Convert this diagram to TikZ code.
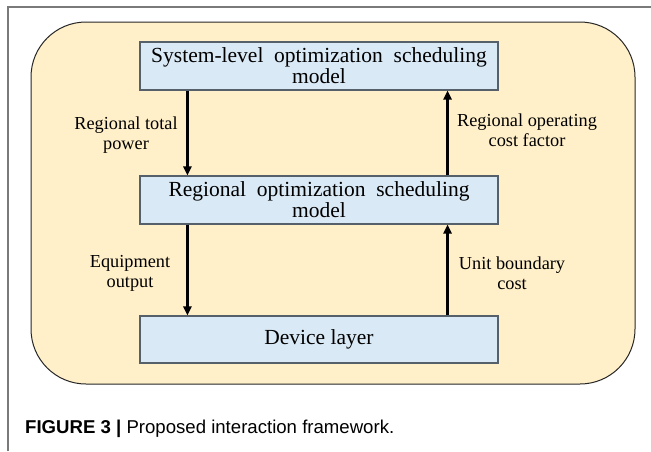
\documentclass[tikz,border=0pt]{standalone}
\usepackage{fontspec}
\setmainfont{Liberation Serif}
\newfontfamily\capfont{Liberation Sans}
\usetikzlibrary{arrows.meta}
\definecolor{outerfill}{HTML}{FFF0C9}
\definecolor{boxfill}{HTML}{DAE9F6}
\definecolor{boxline}{HTML}{55606A}
\definecolor{frameline}{HTML}{7A7A7A}
\tikzset{
  layerbox/.style={draw=boxline, line width=1.1pt, fill=boxfill, minimum width=358pt, inner sep=0pt, align=center, font=\fontsize{21.5}{21}\selectfont},
  flowlabel/.style={align=center, inner sep=0pt, font=\fontsize{18.3}{20}\selectfont},
  flowarrow/.style={line width=2.4pt, -{Triangle[length=9pt,width=8pt]}},
}
\begin{document}
\begin{tikzpicture}[x=1pt,y=-1pt]
\useasboundingbox (0,0) rectangle (651,451);
\draw[frameline, line width=1.3pt] (8,451) -- (8,7) -- (651,7);
\draw[fill=outerfill, draw=black!85, line width=1pt, rounded corners=55pt] (31,22) rectangle (635,384);
\node[layerbox, minimum height=48pt] (top) at (319,66) {System-level\ \ optimization\ \ scheduling\\model};
\node[layerbox, minimum height=48pt] (mid) at (319,200) {Regional\ \ optimization\ \ scheduling\\model};
\node[layerbox, minimum height=47pt] (dev) at (319,339.5) {Device layer};
\draw[flowarrow] ([xshift=48pt]top.south west) -- ([xshift=48pt]mid.north west);
\draw[flowarrow] ([xshift=-51pt]mid.north east) -- ([xshift=-51pt]top.south east);
\draw[flowarrow] ([xshift=48pt]mid.south west) -- ([xshift=48pt]dev.north west);
\draw[flowarrow] ([xshift=-51pt]dev.north east) -- ([xshift=-51pt]mid.south east);
\node[flowlabel] (l1) at (126,135.5) {Regional total\\power};
\node[flowlabel] (l2) at (527,130.5) {Regional operating\\cost factor};
\node[flowlabel] (l3) at (130,273.5) {Equipment\\output};
\node[flowlabel] (l4) at (512,273.5) {Unit boundary\\cost};
\node[anchor=base west, inner sep=0pt, font=\capfont\fontsize{18.6}{19}\selectfont] (cap) at (25,433) {\textbf{FIGURE 3 |} Proposed interaction framework.};
\end{tikzpicture}
\end{document}
